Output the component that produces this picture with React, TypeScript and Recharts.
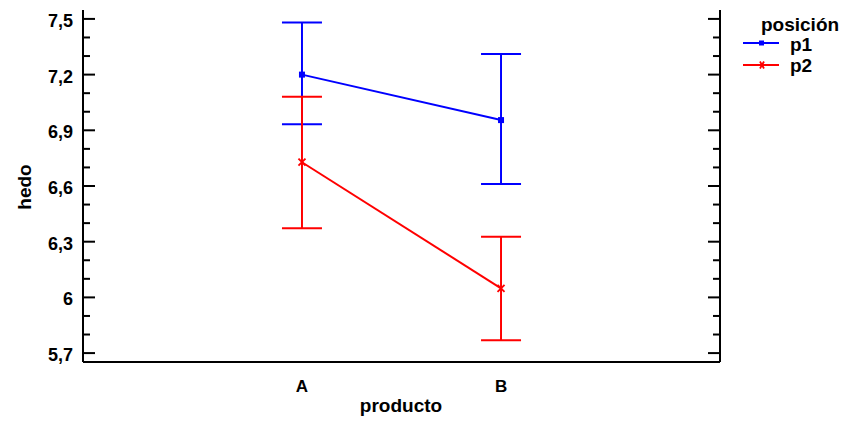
import React from 'react';
import { LineChart, Line, XAxis, YAxis, ErrorBar } from 'recharts';

const categories = ['A', 'B'];
const p1Mean = [7.2, 6.955];
const p1Low = [6.933, 6.611];
const p1High = [7.48, 7.311];
const p2Mean = [6.728, 6.049];
const p2Low = [6.372, 5.769];
const p2High = [7.081, 6.327];
const yTicks = [5.7, 5.8, 5.9, 6.0, 6.1, 6.2, 6.3, 6.4, 6.5, 6.6, 6.7, 6.8, 6.9, 7.0, 7.1, 7.2, 7.3, 7.4, 7.5];
const yLabels = ['5,7', '6', '6,3', '6,6', '6,9', '7,2', '7,5'];

const data = categories.map((c, i) => ({
  x: i + 1,
  name: c,
  p1: p1Mean[i],
  p1Err: [p1Mean[i] - p1Low[i], p1High[i] - p1Mean[i]],
  p2: p2Mean[i],
  p2Err: [p2Mean[i] - p2Low[i], p2High[i] - p2Mean[i]],
}));

const FONT = '"Liberation Sans", Arial, sans-serif';
const PLOT_LEFT = 83;
const PLOT_RIGHT = 720;

const labelFor = (v: number) => {
  const idx = Math.round(v * 10) - 57;
  if (idx % 3 !== 0) return null;
  return yLabels[idx / 3];
};

const LeftTick = (props: any) => {
  const { y, payload } = props;
  const lbl = labelFor(payload.value);
  const len = lbl ? 12 : 7;
  return (
    <g>
      <line x1={PLOT_LEFT} x2={PLOT_LEFT + len} y1={y} y2={y} stroke="#000" strokeWidth={2} />
      {lbl && (
        <text x={73} y={y + 8} textAnchor="end" fontFamily={FONT} fontWeight="bold" fontSize={18} fill="#000">
          {lbl}
        </text>
      )}
    </g>
  );
};

const RightTick = (props: any) => {
  const { y, payload } = props;
  const len = labelFor(payload.value) ? 12 : 7;
  return <line x1={PLOT_RIGHT} x2={PLOT_RIGHT - len} y1={y} y2={y} stroke="#000" strokeWidth={2} />;
};

const XTick = (props: any) => {
  const { x, payload } = props;
  return (
    <text x={x} y={392} textAnchor="middle" fontFamily={FONT} fontWeight="bold" fontSize={17} fill="#000">
      {categories[payload.value - 1]}
    </text>
  );
};

const SquareDot = (props: any) => {
  const { cx, cy } = props;
  if (cx == null || cy == null) return null;
  return <rect x={cx - 3} y={cy - 3} width={6} height={6} fill="#0000ff" />;
};

const CrossDot = (props: any) => {
  const { cx, cy } = props;
  if (cx == null || cy == null) return null;
  return (
    <g stroke="#ff0000" strokeWidth={1.8}>
      <line x1={cx - 3.5} y1={cy - 3.5} x2={cx + 3.5} y2={cy + 3.5} />
      <line x1={cx - 3.5} y1={cy + 3.5} x2={cx + 3.5} y2={cy - 3.5} />
    </g>
  );
};

const LegendBox = () => (
  <svg width={107} height={80} style={{ position: 'absolute', left: 740, top: 0 }}>
    <text x={21} y={31} fontFamily={FONT} fontWeight="bold" fontSize={19} fill="#000">posición</text>
    <line x1={3} x2={39} y1={43} y2={43} stroke="#0000ff" strokeWidth={2} />
    <rect x={19} y={40.5} width={5} height={5} fill="#0000ff" />
    <text x={50} y={51} fontFamily={FONT} fontWeight="bold" fontSize={19} fill="#000">p1</text>
    <line x1={3} x2={39} y1={65} y2={65} stroke="#ff0000" strokeWidth={2} />
    <g stroke="#ff0000" strokeWidth={1.8}>
      <line x1={20} y1={61.5} x2={24} y2={68.5} />
      <line x1={20} y1={68.5} x2={24} y2={61.5} />
    </g>
    <text x={50} y={72} fontFamily={FONT} fontWeight="bold" fontSize={19} fill="#000">p2</text>
  </svg>
);

export default function App() {
  return (
    <div style={{ position: 'absolute', left: 0, top: 0, width: 847, height: 421, background: '#fff' }}>
      <LineChart width={847} height={421} data={data} margin={{ top: 10, right: 117, bottom: 0, left: 0 }}>
        <XAxis
          dataKey="x"
          type="number"
          domain={[-0.1, 3.1]}
          allowDataOverflow
          ticks={[1, 2]}
          height={59}
          axisLine={{ stroke: '#000', strokeWidth: 2 }}
          tickLine={false}
          tick={<XTick />}
          label={() => (
            <text x={401} y={412} textAnchor="middle" fontFamily={FONT} fontWeight="bold" fontSize={19} fill="#000">
              producto
            </text>
          )}
        />
        <XAxis
          xAxisId="top"
          dataKey="x"
          type="number"
          orientation="top"
          domain={[-0.1, 3.1]}
          allowDataOverflow
          height={0}
          axisLine={{ stroke: '#000', strokeWidth: 2 }}
          tickLine={false}
          tick={false}
        />
        <YAxis
          type="number"
          domain={[5.652, 7.548]}
          allowDataOverflow
          ticks={yTicks}
          interval={0}
          width={83}
          axisLine={{ stroke: '#000', strokeWidth: 2 }}
          tickLine={false}
          tick={<LeftTick />}
          label={() => (
            <text
              x={31}
              y={187}
              transform="rotate(-90 31 187)"
              textAnchor="middle"
              fontFamily={FONT}
              fontWeight="bold"
              fontSize={19}
              fill="#000"
            >
              hedo
            </text>
          )}
        />
        <YAxis
          yAxisId="r"
          orientation="right"
          type="number"
          domain={[5.652, 7.548]}
          allowDataOverflow
          ticks={yTicks}
          interval={0}
          width={10}
          axisLine={{ stroke: '#000', strokeWidth: 2 }}
          tickLine={false}
          tick={<RightTick />}
        />
        <Line
          dataKey="p1"
          stroke="#0000ff"
          strokeWidth={2}
          dot={<SquareDot />}
          activeDot={false}
          isAnimationActive={false}
        >
          <ErrorBar dataKey="p1Err" width={20} stroke="#0000ff" strokeWidth={2} direction="y" />
        </Line>
        <Line
          dataKey="p2"
          stroke="#ff0000"
          strokeWidth={2}
          dot={<CrossDot />}
          activeDot={false}
          isAnimationActive={false}
        >
          <ErrorBar dataKey="p2Err" width={20} stroke="#ff0000" strokeWidth={2} direction="y" />
        </Line>
      </LineChart>
      <LegendBox />
    </div>
  );
}
